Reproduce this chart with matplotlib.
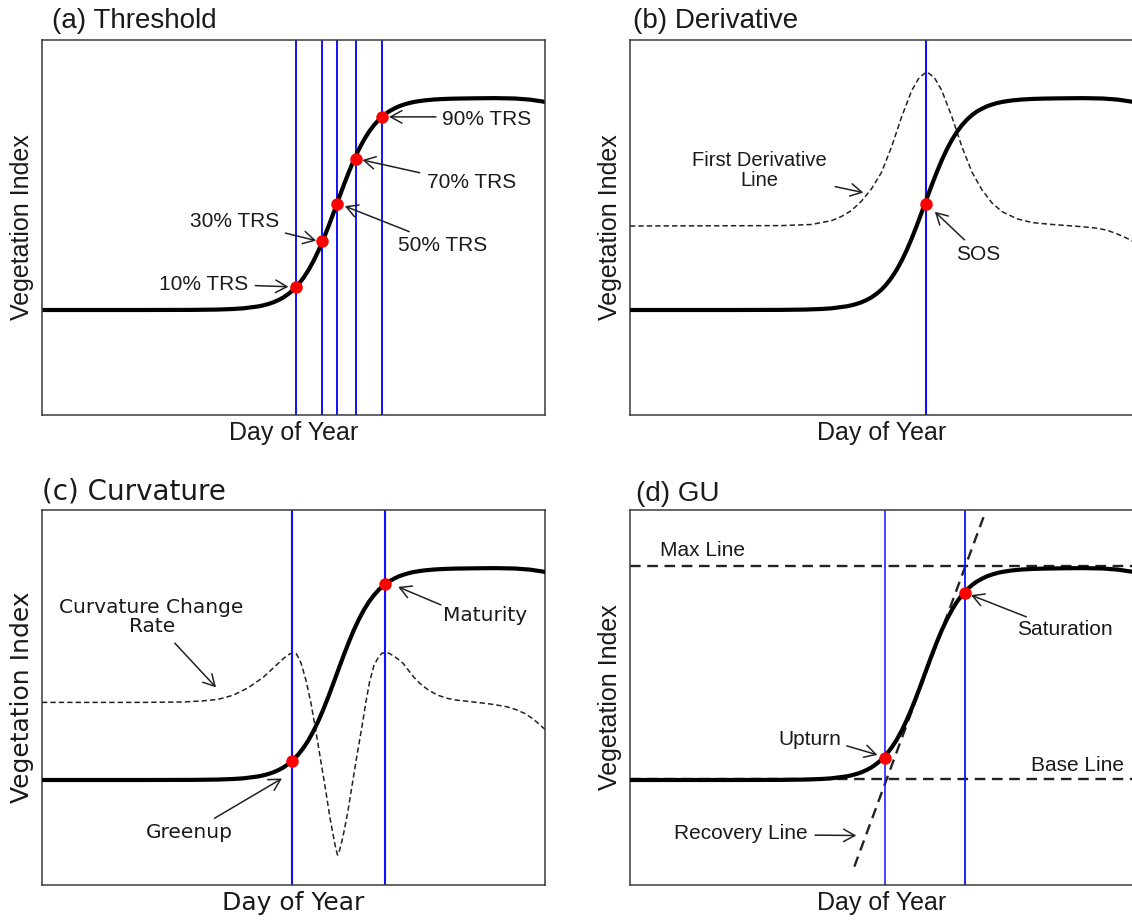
import matplotlib
matplotlib.use("Agg")
import matplotlib.pyplot as plt

# -----------------------------
# Data
# -----------------------------

# vegetation index curve (shared by all four panels), day-of-year units 0-100
doy = [0, 10, 20, 30, 35, 38, 40, 43, 44, 45, 46, 47, 48, 49, 50, 51, 52, 53,
       54, 55, 56, 57, 58, 59, 60, 61, 62, 63, 64, 65, 66, 67, 68, 69, 70, 71,
       72, 73, 74, 75, 76, 78, 80, 82, 86, 90, 94, 97, 100]
vi = [28.0, 28.0, 28.0, 28.03, 28.12, 28.27, 28.44, 28.96, 29.24, 29.6, 30.05,
      30.64, 31.36, 32.3, 33.44, 34.88, 36.61, 38.68, 41.12, 43.92, 47.05,
      50.46, 54.05, 57.72, 61.33, 64.78, 67.99, 70.85, 73.36, 75.51, 77.3,
      78.78, 79.99, 80.96, 81.7, 82.34, 82.8, 83.19, 83.49, 83.7, 83.89, 84.14,
      84.28, 84.37, 84.45, 84.5, 84.4, 84.1, 83.5]

# (a) threshold points
trs_labels = ["10% TRS", "30% TRS", "50% TRS", "70% TRS", "90% TRS"]
trs_x = [50.5, 55.7, 58.6, 62.4, 67.6]
trs_y = [34.0, 46.4, 56.3, 68.3, 79.5]

# (b) first derivative line and SOS
deriv_x = [0, 30, 36, 40, 42, 44, 46, 48, 50, 52, 54, 56, 57.5, 59, 60.5, 62,
           64, 66, 68, 70, 72, 74, 77, 80, 84, 87, 90, 93, 95, 97, 99, 100]
deriv_y = [50.4, 50.5, 50.8, 51.8, 52.9, 54.5, 57.0, 60.3, 64.7, 71.5, 79.5,
           86.5, 90.0, 91.5, 90.0, 86.5, 79.5, 71.5, 64.7, 60.0, 56.5, 54.2,
           52.3, 51.3, 50.8, 50.5, 50.2, 49.8, 49.2, 48.2, 47.0, 46.3]
sos_x = 58.8
sos_y = 56.3

# (c) curvature change rate, greenup and maturity
curv_x = [0, 20, 28, 32, 35, 38, 41, 44, 46, 48, 49, 49.8, 50.6, 51.5, 52.5,
          53.5, 54.5, 55.5, 56.5, 57.3, 58.0, 58.4, 58.75, 59.1, 59.5, 60.0,
          60.8, 61.6, 62.6, 63.6, 64.4, 65.1, 66.0, 67.0, 67.6, 68.2, 69.0,
          70.0, 71.0, 71.8, 73.0, 74.0, 75.1, 76.5, 78.5, 80.5, 82.4, 84.5,
          86.4, 88.4, 90.4, 92.5, 94.4, 96.2, 97.7, 99.0, 100]
curv_y = [48.7, 48.7, 48.8, 49.1, 49.5, 50.6, 52.6, 55.4, 57.9, 60.4, 61.4,
          62.0, 61.6, 59.2, 54.5, 48.3, 40.6, 32.5, 24.4, 17.5, 12.5, 9.8, 8.0,
          9.0, 11.0, 14.0, 19.5, 26.2, 34.4, 42.2, 48.8, 54.0, 58.6, 61.0, 61.8,
          62.0, 61.8, 61.0, 60.0, 59.1, 57.0, 55.3, 53.8, 52.3, 50.7, 49.8,
          49.3, 49.0, 48.7, 48.4, 48.0, 47.5, 46.7, 45.6, 44.2, 42.7, 41.5]
greenup = (49.7, 33.1)
maturity = (68.2, 80.3)

# (d) GU method
max_line = 85.1
base_line = 28.2
recovery_x = [44.6, 70.5]
recovery_y = [4.9, 98.9]
upturn = (50.6, 33.9)
saturation = (66.6, 77.8)

# -----------------------------
# Figure layout (pixel based)
# -----------------------------
W, H = 1132, 922
fig = plt.figure(figsize=(W / 100, H / 100), dpi=100)


def px_axes(left, top, right, bottom):
    return fig.add_axes([left / W, 1 - bottom / H, (right - left) / W, (bottom - top) / H])


LIB = ["Liberation Sans", "DejaVu Sans"]
DJV = ["DejaVu Sans"]
TXT = "#1a1a1a"
BLUE = "#1010ff"
arrow_kw = dict(arrowstyle="->, head_length=0.45, head_width=0.25", lw=1.1,
                color="#222222", shrinkA=0, shrinkB=0, mutation_scale=18)


def setup(ax, title, fam, tx, ty):
    ax.set_xlim(0, 100)
    ax.set_ylim(0, 100)
    ax.set_xticks([])
    ax.set_yticks([])
    for sp in ax.spines.values():
        sp.set_color("#3a3a3a")
        sp.set_linewidth(1.1)
    ax.set_xlabel("Day of Year", fontsize=18, family=fam, color=TXT, labelpad=4)
    ax.set_ylabel("Vegetation Index", fontsize=18, family=fam, color=TXT, labelpad=6)
    ax.text(tx, ty, title, transform=ax.transAxes, fontsize=20, family=fam,
            color=TXT, ha="left", va="bottom")


def note(ax, label, txy, tail, tip, fam, size=15):
    ax.text(txy[0], txy[1], label, fontsize=size, family=fam, color=TXT,
            ha="center", va="center", multialignment="center", linespacing=1.0)
    if tail is not None:
        ax.annotate("", xy=tip, xytext=tail, arrowprops=arrow_kw)


# -----------------------------
# (a) Threshold
# -----------------------------
ax = px_axes(42, 40, 545, 415)
setup(ax, "(a) Threshold", LIB, 0.02, 1.017)
for x in trs_x:
    ax.axvline(x, color=BLUE, lw=1.4, zorder=1)
ax.plot(doy, vi, color="black", lw=3, zorder=2)
ax.plot(trs_x, trs_y, "o", color="red", ms=9, mec="none", zorder=3)
note(ax, trs_labels[0], (32.2, 34.9), (42.4, 34.5), (49.0, 34.2), LIB)
note(ax, trs_labels[1], (38.2, 51.5), (48.4, 48.5), (54.5, 46.5), LIB)
note(ax, trs_labels[2], (79.7, 45.1), (73.0, 48.9), (60.2, 55.7), LIB)
note(ax, trs_labels[3], (85.5, 61.9), (75.1, 64.6), (63.7, 68.0), LIB)
note(ax, trs_labels[4], (88.3, 78.9), (78.3, 79.5), (69.0, 79.5), LIB)

# -----------------------------
# (b) Derivative
# -----------------------------
ax = px_axes(630, 40, 1133, 415)
setup(ax, "(b) Derivative", LIB, 0.006, 1.017)
ax.plot(deriv_x, deriv_y, color="#222222", lw=1.1, ls=(0, (3.5, 2)), zorder=1)
ax.axvline(sos_x, color=BLUE, lw=1.5, zorder=2)
ax.plot(doy, vi, color="black", lw=3, zorder=3)
ax.plot([sos_x], [sos_y], "o", color="red", ms=9, mec="none", zorder=4)
note(ax, "First Derivative\nLine", (25.8, 65.2), (40.8, 60.9), (46.4, 59.3), LIB, 14.5)
note(ax, "SOS", (69.3, 42.7), (66.5, 46.7), (60.6, 54.2), LIB)

# -----------------------------
# (c) Curvature
# -----------------------------
ax = px_axes(42, 510, 545, 885)
setup(ax, "(c) Curvature", DJV, 0.0, 1.012)
ax.plot(curv_x, curv_y, color="#222222", lw=1.1, ls=(0, (3.5, 2)), zorder=1)
ax.axvline(greenup[0], color=BLUE, lw=1.5, zorder=2)
ax.axvline(maturity[0], color=BLUE, lw=1.5, zorder=2)
ax.plot(doy, vi, color="black", lw=3, zorder=3)
ax.plot([greenup[0], maturity[0]], [greenup[1], maturity[1]], "o", color="red",
        ms=9, mec="none", zorder=4)
note(ax, "Curvature Change\nRate", (21.8, 71.5), (26.4, 64.5), (34.6, 52.7), DJV, 14.5)
note(ax, "Maturity", (88.1, 72.0), (79.3, 74.7), (70.8, 79.5), DJV, 14.5)
note(ax, "Greenup", (29.3, 13.9), (34.3, 17.8), (47.7, 28.4), DJV, 14.5)

# -----------------------------
# (d) GU
# -----------------------------
ax = px_axes(630, 510, 1133, 885)
setup(ax, "(d) GU", LIB, 0.012, 1.008)
ax.axhline(max_line, color="#222222", lw=1.7, ls=(0, (4.5, 2.8)), zorder=1)
ax.axhline(base_line, color="#222222", lw=1.7, ls=(0, (4.5, 2.8)), zorder=1)
ax.plot(recovery_x, recovery_y, color="#222222", lw=1.7, ls=(0, (4.5, 2.8)), zorder=1)
ax.axvline(upturn[0], color=BLUE, lw=1.1, zorder=2)
ax.axvline(saturation[0], color=BLUE, lw=1.3, zorder=2)
ax.plot(doy, vi, color="black", lw=3, zorder=3)
ax.plot([upturn[0], saturation[0]], [upturn[1], saturation[1]], "o", color="red",
        ms=9, mec="none", zorder=4)
note(ax, "Max Line", (14.4, 89.3), None, None, LIB)
note(ax, "Saturation", (86.5, 68.2), (78.8, 71.5), (67.8, 77.3), LIB)
note(ax, "Upturn", (35.7, 38.9), (43.1, 37.1), (49.2, 34.7), LIB)
note(ax, "Base Line", (88.9, 32.0), None, None, LIB)
note(ax, "Recovery Line", (22.1, 13.8), (36.8, 13.3), (45.0, 13.2), LIB)

fig.savefig("out.png", dpi=100)
